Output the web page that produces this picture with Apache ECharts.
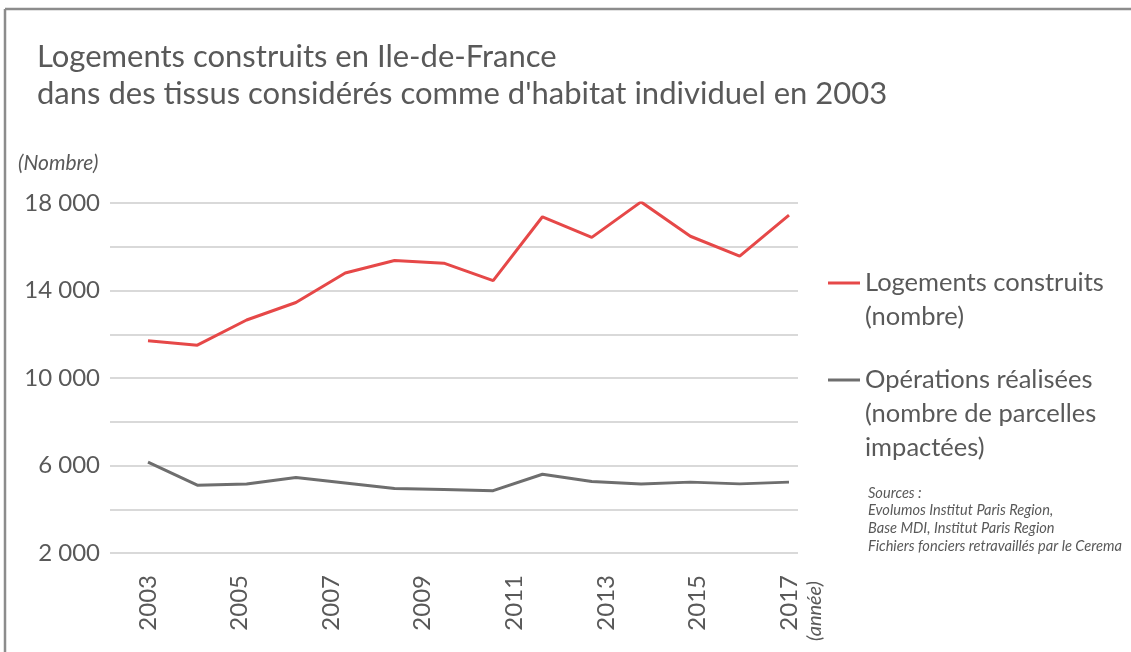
<!DOCTYPE html>
<html>
<head>
<meta charset="utf-8">
<script src="https://cdn.jsdelivr.net/npm/echarts@6/dist/echarts.min.js"></script>
<style>
  html, body { margin: 0; padding: 0; background: #fff; }
  #main { width: 1131px; height: 652px; }
</style>
</head>
<body>
<div id="main"></div>
<script>
// tick labels of the year axis
const years = ["2003", "2004", "2005", "2006", "2007", "2008", "2009", "2010",
  "2011", "2012", "2013", "2014", "2015", "2016", "2017"];
// the 14 plotted points, spread evenly between 2003 and 2017
const pointCats = ["1", "2", "3", "4", "5", "6", "7", "8", "9", "10", "11", "12", "13", "14"];

const logements = [11700, 11500, 12650, 13450, 14800, 15370, 15250, 14450,
  17370, 16430, 18050, 16480, 15570, 17450];
const operations = [6150, 5100, 5150, 5450, 5200, 4950, 4900, 4850,
  5600, 5270, 5150, 5240, 5160, 5240];

const nameLog = "Logements construits\n(nombre)";
const nameOps = "Opérations réalisées\n(nombre de parcelles\nimpactées)";

const textColor = "#595959";
const font = "Lato";

const chartDom = document.getElementById("main");
const myChart = echarts.init(chartDom);

function fmt(v) {
  return String(v).replace(/\B(?=(\d{3})+(?!\d))/g, " ");
}

const legendText = { fontSize: 25.5, lineHeight: 34, color: textColor, fontFamily: font };

const option = {
  animation: false,
  textStyle: { fontFamily: font },
  title: {
    text: "Logements construits en Ile-de-France\ndans des tissus considérés comme d'habitat individuel en 2003",
    left: 32,
    top: 33,
    textStyle: { fontFamily: font, fontWeight: "normal", fontSize: 31, lineHeight: 37, color: textColor },
  },
  grid: [
    // gridlines area
    { left: 110, right: 333, top: 203, bottom: 99 },
    // data area
    { left: 148, right: 342, top: 203, bottom: 99 },
  ],
  xAxis: [
    { gridIndex: 0, type: "value", show: false, min: 0, max: 1 },
    {
      gridIndex: 1,
      type: "category",
      data: years,
      boundaryGap: false,
      axisLine: { show: false },
      axisTick: { show: false },
      axisLabel: {
        interval: 1,
        rotate: 90,
        margin: 22,
        fontSize: 24,
        color: textColor,
        fontFamily: font,
      },
    },
    { gridIndex: 1, type: "category", data: pointCats, boundaryGap: false, show: false },
  ],
  yAxis: [
    {
      gridIndex: 0,
      type: "value",
      min: 2000,
      max: 18000,
      interval: 2000,
      axisLine: { show: false },
      axisTick: { show: false },
      splitLine: { lineStyle: { color: "#d9d9d9", width: 2 } },
      axisLabel: {
        margin: 10,
        fontSize: 24,
        color: textColor,
        fontFamily: font,
        formatter: (v) => ((v - 2000) % 4000 === 0 ? fmt(v) : ""),
      },
    },
    { gridIndex: 1, type: "value", min: 2000, max: 18000, show: false },
  ],
  legend: [
    {
      data: [nameLog],
      formatter: (n) => "\n" + n,
      left: 828,
      top: 232,
      padding: 0,
      icon: "rect",
      itemWidth: 32,
      itemHeight: 3,
      selectedMode: false,
      textStyle: legendText,
    },
    {
      data: [nameOps],
      formatter: (n) => "\n\n" + n,
      left: 828,
      top: 295,
      padding: 0,
      icon: "rect",
      itemWidth: 32,
      itemHeight: 3,
      selectedMode: false,
      textStyle: legendText,
    },
  ],
  series: [
    {
      name: nameLog,
      type: "line",
      xAxisIndex: 2,
      yAxisIndex: 1,
      data: logements,
      symbol: "none",
      color: "#e64848",
      lineStyle: { width: 3 },
    },
    {
      name: nameOps,
      type: "line",
      xAxisIndex: 2,
      yAxisIndex: 1,
      data: operations,
      symbol: "none",
      color: "#6e6e6e",
      lineStyle: { width: 3 },
    },
  ],
  graphic: [
    { type: "line", shape: { x1: 5, y1: 9, x2: 1131, y2: 9 }, style: { stroke: "#8c8c8c", lineWidth: 2.5 } },
    { type: "line", shape: { x1: 5, y1: 9, x2: 5, y2: 652 }, style: { stroke: "#8c8c8c", lineWidth: 2.5 } },
    {
      type: "text",
      x: 18,
      y: 163,
      style: { text: "(Nombre)", fontFamily: font, fontStyle: "italic", fontSize: 21, fill: textColor, verticalAlign: "middle" },
    },
    {
      type: "text",
      x: 815,
      y: 641,
      rotation: Math.PI / 2,
      style: { text: "(année)", fontFamily: font, fontStyle: "italic", fontSize: 20, fill: textColor, verticalAlign: "middle" },
    },
    {
      type: "text",
      x: 868,
      y: 484,
      style: {
        text: "Sources :\nEvolumos Institut Paris Region,\nBase MDI, Institut Paris Region\nFichiers fonciers retravaillés par le Cerema",
        fontFamily: font,
        fontStyle: "italic",
        fontSize: 14.6,
        lineHeight: 17.7,
        fill: textColor,
      },
    },
  ],
};

option && myChart.setOption(option);
</script>
</body>
</html>
